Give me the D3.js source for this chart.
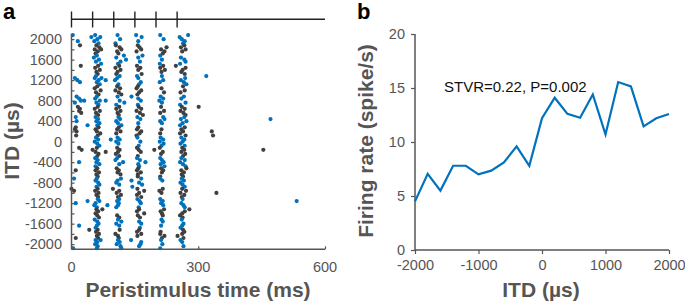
<!DOCTYPE html>
<html>
<head>
<meta charset="utf-8">
<script src="https://cdn.jsdelivr.net/npm/d3@7"></script>
<style>
  body { margin: 0; background: #fff; }
  text { font-family: "Liberation Sans", Arial, sans-serif; }
</style>
</head>
<body>
<div id="chart"></div>
<script>
// ---- data ----
// panel a: ITD rows (top to bottom), 5 trials each, spike times in ms
const itds = [2000, 1800, 1600, 1400, 1200, 1000, 800, 600, 400, 200, 0,
  -200, -400, -600, -800, -1000, -1200, -1400, -1600, -1800, -2000];
const spikeTimes = [
  [[3, 56, 109, 153, 210, 276], [47, 68, 166, 256], [61, 115, 218, 261], [15, 54, 158, 268], [64, 104, 264]],
  [[20, 59, 105, 157, 267], [66, 114, 161, 225, 259], [55, 70, 118, 165, 212, 270], [62, 108, 154, 220, 262], [57, 111, 216]],
  [[60, 124, 168, 210], [53, 106, 158, 259], [65, 129, 214, 267], [58, 116, 162, 270], [70, 110, 209, 257]],
  [[22, 63, 113, 155, 217, 247], [56, 104, 163, 210, 270], [67, 116, 158, 221, 263], [59, 109, 213, 260], [62, 106, 166, 268]],
  [[58, 114, 155, 214, 319], [8, 55, 71, 108, 158, 269], [14, 64, 81, 103, 217, 259], [20, 60, 164, 209, 266], [67, 111, 160, 272]],
  [[61, 108, 157, 264], [55, 115, 154, 213], [69, 104, 165, 268], [58, 112, 160, 219, 258], [64, 118, 156]],
  [[12, 60, 109, 142, 211, 266], [18, 56, 158, 217, 260], [22, 30, 67, 81, 114, 164, 208], [8, 59, 125, 214, 270], [64, 106, 157, 257]],
  [[15, 62, 113, 159, 212, 261, 301], [20, 55, 106, 165, 268], [18, 67, 116, 154, 219, 258], [23, 58, 109, 162, 210, 265], [63, 112, 169, 270]],
  [[10, 57, 111, 156, 217, 267], [63, 115, 163, 220, 259, 471], [12, 59, 106, 210, 272], [66, 110, 158, 214, 263], [38, 61, 118, 257]],
  [[10, 64, 112, 158, 268], [8, 57, 108, 155, 213, 260], [12, 60, 116, 165, 264, 332], [68, 106, 161, 210, 257], [11, 62, 154, 270, 335]],
  [[58, 109, 156, 211, 260], [63, 93, 114, 217, 267], [55, 106, 163, 209, 263], [61, 111, 218, 258], [66, 159, 213, 268]],
  [[18, 60, 108, 155, 209, 262], [24, 50, 114, 159, 196, 267, 454], [57, 81, 110, 164, 216, 260], [64, 105, 212, 269], [61, 113, 157, 264]],
  [[56, 108, 155, 210, 260], [62, 104, 162, 214, 268], [18, 59, 122, 175, 218, 257], [66, 113, 158, 211, 264], [57, 160, 220, 270]],
  [[61, 107, 158, 212, 272], [10, 57, 112, 155, 217, 260], [65, 109, 164, 214, 266], [59, 116, 157, 261], [62, 157, 210, 264]],
  [[6, 60, 117, 165, 210, 261], [57, 109, 142, 215, 266], [63, 106, 160, 258], [66, 113, 167, 263], [59, 144, 268]],
  [[0, 62, 98, 156, 216, 262], [6, 56, 113, 172, 208, 271], [64, 107, 160, 213, 258, 343], [59, 117, 155, 267], [63, 110, 165, 261]],
  [[62, 113, 156, 210, 263], [38, 66, 108, 161, 216, 533], [10, 57, 112, 164, 212, 260], [54, 85, 110, 217, 265], [60, 106, 159, 268]],
  [[59, 73, 160, 219, 279], [63, 155, 211, 268], [57, 172, 214, 262], [61, 108, 157, 216, 257], [65, 113, 162, 263]],
  [[55, 110, 213, 261], [61, 118, 160, 216], [64, 106, 165, 265], [18, 60, 113, 212, 262], [57, 162, 258]],
  [[42, 62, 114, 160, 264], [58, 155, 211, 267], [65, 104, 165, 210, 262], [60, 110, 156, 220, 251], [10, 63, 112, 214, 265]],
  [[57, 69, 110, 141, 212, 258], [61, 114, 165, 262], [56, 107, 163, 215], [62, 116, 160, 265], [4, 60, 118, 210]]
];
const trialSpacing = 40; // µs between trial rows inside one ITD band
const stimOnsets = [0, 50, 100, 150, 200, 250];
const rasterYTicks = d3.range(-2000, 2001, 200);
const rasterYLabels = [-2000, -1600, -1200, -800, -400, 0, 400, 800, 1200, 1600, 2000];
const rasterXTicks = [0, 300, 600];

// panel b: tuning curve
const curveItd = [-2000, -1800, -1600, -1400, -1200, -1000, -800, -600, -400, -200, 0,
  200, 400, 600, 800, 1000, 1200, 1400, 1600, 1800, 2000];
const firingRate = [4.5, 7.05, 5.5, 7.8, 7.8, 7.0, 7.35, 8.1, 9.6, 7.8, 12.2,
  14.1, 12.6, 12.25, 14.4, 10.7, 15.55, 15.15, 11.45, 12.2, 12.6];
const curveXTicks = [-2000, -1000, 0, 1000, 2000];
const curveYTicks = [0, 5, 10, 15, 20];

const blue = "#0072BD", dark = "#404040", axisCol = "#555", txtCol = "#555";

const svg = d3.select("#chart").append("svg")
  .attr("width", 685).attr("height", 304);

// ---------- panel a ----------
const xa = d3.scaleLinear().domain([0, 600]).range([71.5, 325]);
const ya = d3.scaleLinear().domain([-2100, 2100]).range([249.3, 34]);

const gA = svg.append("g");

// stimulus marker bar
gA.append("line")
  .attr("x1", xa(0)).attr("x2", xa(600))
  .attr("y1", 19.3).attr("y2", 19.3)
  .attr("stroke", "#222").attr("stroke-width", 1.4);
gA.selectAll(".stim").data(stimOnsets).join("line")
  .attr("x1", d => xa(d)).attr("x2", d => xa(d))
  .attr("y1", 11.5).attr("y2", 27.5)
  .attr("stroke", "#222").attr("stroke-width", 1.4);

// spikes
const spikes = [];
itds.forEach((itd, i) => {
  spikeTimes[i].forEach((trial, k) => {
    trial.forEach(t => spikes.push({t: t, y: itd + (2 - k) * trialSpacing, c: i % 2 === 0 ? blue : dark}));
  });
});
gA.selectAll(".spk").data(spikes).join("circle")
  .attr("cx", d => xa(d.t)).attr("cy", d => ya(d.y))
  .attr("r", 2.1).attr("fill", d => d.c);

// axes
const axA_y = gA.append("g").attr("transform", `translate(${xa(0)},0)`)
  .call(d3.axisRight(ya).tickValues(rasterYTicks).tickSize(3).tickFormat(""));
const axA_x = gA.append("g").attr("transform", `translate(0,${ya(-2100)})`)
  .call(d3.axisTop(xa).tickValues(rasterXTicks).tickSize(3).tickFormat(""));
[axA_y, axA_x].forEach(a => {
  a.select(".domain").attr("stroke", axisCol).attr("stroke-width", 1.5);
  a.selectAll(".tick line").attr("stroke", axisCol).attr("stroke-width", 1.2);
});
axA_x.select(".domain").attr("d", `M${xa(0)},0H${xa(600)}`);
axA_y.select(".domain").attr("d", `M0,${ya(2100)}V${ya(-2100)}`);

gA.selectAll(".ylab").data(rasterYLabels).join("text")
  .attr("x", 62).attr("y", d => ya(d)).attr("dy", "0.36em")
  .attr("text-anchor", "end").attr("font-size", 14.5).attr("fill", txtCol)
  .text(d => d);
gA.selectAll(".xlab").data(rasterXTicks).join("text")
  .attr("x", d => xa(d)).attr("y", 272)
  .attr("text-anchor", "middle").attr("font-size", 14.5).attr("fill", txtCol)
  .text(d => d);

gA.append("text").attr("x", 198).attr("y", 297)
  .attr("text-anchor", "middle").attr("font-size", 21).attr("font-weight", "bold")
  .attr("fill", txtCol).text("Peristimulus time (ms)");
gA.append("text").attr("transform", "translate(18.5,141) rotate(-90)")
  .attr("text-anchor", "middle").attr("font-size", 21).attr("font-weight", "bold")
  .attr("fill", txtCol).text("ITD (µs)");
gA.append("text").attr("x", 3).attr("y", 19)
  .attr("font-size", 22).attr("font-weight", "bold").attr("fill", "#000").text("a");

// ---------- panel b ----------
const xb = d3.scaleLinear().domain([-2000, 2000]).range([415, 669]);
const yb = d3.scaleLinear().domain([0, 20]).range([250, 34]);
const gB = svg.append("g");

const axB_x = gB.append("g").attr("transform", `translate(0,${yb(0)})`)
  .call(d3.axisBottom(xb).tickValues(curveXTicks).tickSize(4).tickPadding(6)
    .tickFormat(d => String(d)));
const axB_y = gB.append("g").attr("transform", `translate(${xb(-2000)},0)`)
  .call(d3.axisLeft(yb).tickValues(curveYTicks).tickSize(4).tickPadding(6)
    .tickFormat(d => String(d)));
[axB_x, axB_y].forEach(a => {
  a.select(".domain").attr("stroke", axisCol).attr("stroke-width", 1.5);
  a.selectAll(".tick line").attr("stroke", axisCol).attr("stroke-width", 1.2);
  a.selectAll(".tick text").attr("font-size", 14.5).attr("fill", txtCol)
    .attr("font-family", "'Liberation Sans', Arial, sans-serif");
});
axB_x.select(".domain").attr("d", `M${xb(-2000)},0H${xb(2000)}`);
axB_y.select(".domain").attr("d", `M0,${yb(20)}V${yb(0)}`);

gB.append("path").datum(curveItd.map((d, i) => [d, firingRate[i]]))
  .attr("fill", "none").attr("stroke", blue).attr("stroke-width", 2.2)
  .attr("stroke-linejoin", "miter")
  .attr("d", d3.line().x(d => xb(d[0])).y(d => yb(d[1])));

gB.append("text").attr("x", 444).attr("y", 92)
  .attr("font-size", 15).attr("fill", "#111").text("STVR=0.22, P=0.002");

gB.append("text").attr("x", 541).attr("y", 297)
  .attr("text-anchor", "middle").attr("font-size", 21).attr("font-weight", "bold")
  .attr("fill", txtCol).text("ITD (µs)");
gB.append("text").attr("transform", "translate(373,141) rotate(-90)")
  .attr("text-anchor", "middle").attr("font-size", 21).attr("font-weight", "bold")
  .attr("fill", txtCol).text("Firing rate (spike/s)");
gB.append("text").attr("x", 357).attr("y", 19)
  .attr("font-size", 22).attr("font-weight", "bold").attr("fill", "#000").text("b");
</script>
</body>
</html>
